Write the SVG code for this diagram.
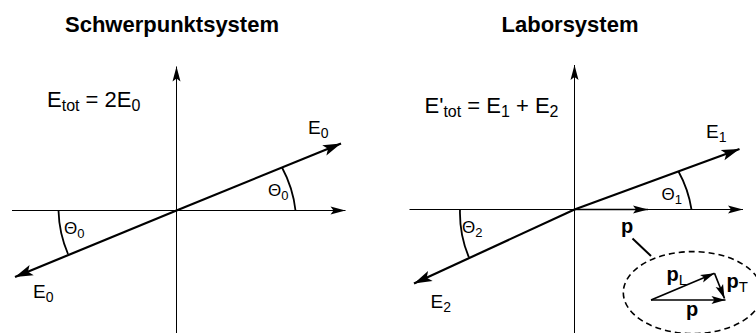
<svg xmlns="http://www.w3.org/2000/svg" width="756" height="333" viewBox="0 0 756 333">
  <style>
    text { font-family: "Liberation Sans", Arial, Helvetica, sans-serif; fill: #000; }
    .title { font-size: 22px; font-weight: bold; text-anchor: middle; }
    .formula { font-size: 22px; }
    .lbl { font-size: 19px; }
    .ang { font-size: 17px; }
    .pb { font-size: 20px; font-weight: bold; }
    .axis { stroke: #000; stroke-width: 1; fill: none; }
    .vec { stroke: #000; stroke-width: 2.2; fill: none; }
    .arc { stroke: #000; stroke-width: 1.8; fill: none; }
    .small { stroke: #000; stroke-width: 1.7; fill: none; }
  </style>
  <defs>
    <marker id="ax" markerUnits="userSpaceOnUse" markerWidth="16" markerHeight="9" refX="15" refY="4" orient="auto" overflow="visible">
      <path d="M0,0 L15,4 L0,8 L3,4 z" fill="#000"/>
    </marker>
    <marker id="vh" markerUnits="userSpaceOnUse" markerWidth="19" markerHeight="12" refX="18" refY="5.5" orient="auto" overflow="visible">
      <path d="M0,0 L18,5.5 L0,11 L4,5.5 z" fill="#000"/>
    </marker>
    <marker id="sh" markerUnits="userSpaceOnUse" markerWidth="15" markerHeight="9" refX="14" refY="4" orient="auto" overflow="visible">
      <path d="M0,0 L14,4 L0,8 L3,4 z" fill="#000"/>
    </marker>
  </defs>

  <!-- Left panel: Schwerpunktsystem -->
  <g id="left-panel">
    <text id="title-left" class="title" x="172" y="32">Schwerpunktsystem</text>
    <g id="axes-left">
      <line class="axis" x1="176.5" y1="333" x2="176.5" y2="66.5" marker-end="url(#ax)"/>
      <line class="axis" x1="12" y1="210.5" x2="345.5" y2="210.5" marker-end="url(#ax)"/>
    </g>
    <text id="formula-left" class="formula" x="47" y="107">E<tspan font-size="16" dy="4">tot</tspan><tspan dy="-4"> = 2E</tspan><tspan font-size="16" dy="4">0</tspan></text>
    <text id="label-E0-right" class="lbl" x="308" y="133.5">E<tspan font-size="14" dy="4">0</tspan></text>
    <text id="label-E0-left" class="lbl" x="33" y="298">E<tspan font-size="14" dy="4">0</tspan></text>
    <text id="label-theta0-right" class="ang" x="268" y="196">Θ<tspan font-size="13" dy="4">0</tspan></text>
    <text id="label-theta0-left" class="ang" x="64" y="234">Θ<tspan font-size="13" dy="4">0</tspan></text>
  </g>

  <!-- Right panel: Laborsystem -->
  <g id="right-panel">
    <text id="title-right" class="title" x="570" y="32">Laborsystem</text>
    <g id="axes-right">
      <line class="axis" x1="574.5" y1="333" x2="574.5" y2="65" marker-end="url(#ax)"/>
      <line class="axis" x1="409.5" y1="209.5" x2="743" y2="209.5" stroke="#6a6a6a" marker-end="url(#ax)"/>
    </g>
    <text id="formula-right" class="formula" x="424.5" y="113">E'<tspan font-size="16" dy="4">tot</tspan><tspan dy="-4"> = E</tspan><tspan font-size="16" dy="4">1</tspan><tspan dy="-4"> + E</tspan><tspan font-size="16" dy="4">2</tspan></text>
    <text id="label-E1" class="lbl" x="706" y="138">E<tspan font-size="14" dy="4">1</tspan></text>
    <text id="label-E2" class="lbl" x="430.5" y="308">E<tspan font-size="14" dy="4">2</tspan></text>
    <text id="label-theta1" class="ang" x="661.5" y="200">Θ<tspan font-size="13" dy="4">1</tspan></text>
    <text id="label-theta2" class="ang" x="462" y="233">Θ<tspan font-size="13" dy="4">2</tspan></text>
    <text id="label-p" class="pb" x="621" y="233" font-size="21">p</text>
  </g>

  <!-- Inset: momentum decomposition -->
  <g id="inset">
    <ellipse cx="692.7" cy="292.6" rx="69.4" ry="41" fill="none" stroke="#000" stroke-width="1.6" stroke-dasharray="6 4"/>
    <text id="label-pL" class="pb" x="666.5" y="281">p<tspan font-size="15" font-weight="normal" dy="4">L</tspan></text>
    <text id="label-pT" class="pb" x="726.5" y="288">p<tspan font-size="15" font-weight="normal" dy="4">T</tspan></text>
    <text id="label-p-inset" class="pb" x="686" y="316">p</text>
  </g>

  <!-- Connectors -->
  <g id="connectors">
    <line class="vec" x1="176.5" y1="210.5" x2="341" y2="143.5" marker-end="url(#vh)"/>
    <line class="vec" x1="176.5" y1="210.5" x2="15" y2="277" marker-end="url(#vh)"/>
    <path class="arc" d="M295.5,210.5 A118,118 0 0,0 282,167.5"/>
    <path class="arc" d="M58.5,210.5 A118,118 0 0,0 68,254"/>

    <line class="vec" x1="574.5" y1="209.5" x2="739.5" y2="149" marker-end="url(#vh)"/>
    <line class="vec" x1="574.5" y1="209.5" x2="414" y2="283.5" marker-end="url(#vh)"/>
    <path class="arc" d="M691.5,209.5 A115,115 0 0,0 678.5,171.5"/>
    <path class="arc" d="M460,209.5 A115,115 0 0,0 469,257.5"/>
    <line class="small" x1="574.5" y1="209.5" x2="648" y2="209.5" stroke-width="2.2" marker-end="url(#ax)"/>
    <line x1="632.5" y1="238.5" x2="651" y2="256" stroke="#000" stroke-width="2"/>

    <line class="small" x1="651" y1="300" x2="725.5" y2="300" marker-end="url(#sh)"/>
    <line class="small" x1="651" y1="300" x2="714.5" y2="273.3" marker-end="url(#sh)"/>
    <line class="small" x1="714.5" y1="273.3" x2="724.5" y2="298.5" marker-end="url(#sh)"/>
  </g>
</svg>
